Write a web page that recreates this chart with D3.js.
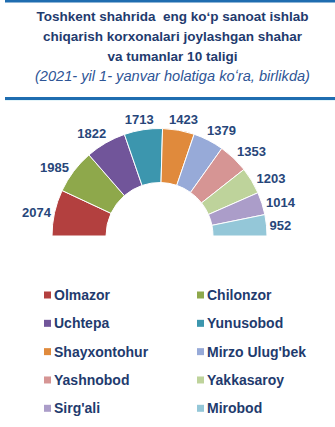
<!DOCTYPE html>
<html><head><meta charset="utf-8">
<script src="https://cdn.jsdelivr.net/npm/d3@7/dist/d3.min.js"></script>
<style>
html,body{margin:0;padding:0;background:#fff;}
svg{display:block;font-family:"Liberation Sans",Arial,sans-serif;}
</style></head>
<body>
<svg id="chart" width="335" height="427"></svg>
<script>
const titleLines = ["Toshkent shahrida  eng ko\u02bbp sanoat ishlab", "chiqarish korxonalari joylashgan shahar", "va tumanlar 10 taligi"];
const subtitle = "(2021- yil 1- yanvar holatiga ko\u02bbra, birlikda)";
const categories = ["Olmazor","Chilonzor","Uchtepa","Yunusobod","Shayxontohur","Mirzo Ulug'bek","Yashnobod","Yakkasaroy","Sirg'ali","Mirobod"];
const values = [2074,1985,1822,1713,1423,1379,1353,1203,1014,952];
const colors = ["#b3403f","#8ea84b","#71559a","#3c96ae","#e08a3c","#97aad8","#d69594","#bed39b","#ab9dc9","#94c7d8"];

const svg = d3.select("#chart");
svg.append("rect").attr("width",335).attr("height",427).attr("fill","#fff");

// header rules
svg.append("rect").attr("x",5).attr("y",0).attr("width",330).attr("height",2.5).attr("fill","#1f6db0");
svg.append("rect").attr("x",5).attr("y",97).attr("width",330).attr("height",3).attr("fill","#1f6db0");
svg.append("rect").attr("x",5).attr("y",100).attr("width",330).attr("height",1).attr("fill","#e4f5fa");

// title
titleLines.forEach((t,i)=>{
  svg.append("text").attr("x",172.5).attr("y",21+i*20).attr("text-anchor","middle")
    .attr("font-size",13.5).attr("font-weight","bold").attr("fill","#1f3b6e")
    .style("white-space","pre").text(t);
});
svg.append("text").attr("x",172.5).attr("y",81).attr("text-anchor","middle")
  .attr("font-size",14.6).attr("font-style","italic").attr("fill","#2e5596").text(subtitle);

// half donut
const cx = 159.5, cy = 236, rOuter = 107.5, rInner = 53.5;
const data = categories.map((c,i)=>({name:c,value:values[i],color:colors[i]}));
const pie = d3.pie().value(d=>d.value).sort(null).startAngle(-Math.PI/2).endAngle(Math.PI/2);
const arcs = pie(data);
const arc = d3.arc().innerRadius(rInner).outerRadius(rOuter);
const g = svg.append("g").attr("transform",`translate(${cx},${cy})`);
g.selectAll("path").data(arcs).join("path")
  .attr("d",arc).attr("fill",d=>d.data.color).attr("stroke","#fff").attr("stroke-width",1);

// labels (placed outside the arc, box-aware)
const lh = 12, R0 = rOuter + 2.5;
g.selectAll("text.lbl").data(arcs).join("text").attr("class","lbl")
  .attr("font-size",13).attr("font-weight","bold").attr("fill","#27467a")
  .attr("text-anchor","middle").attr("dominant-baseline","central")
  .each(function(d){
    const th0 = (d.startAngle+d.endAngle)/2 + Math.PI/2; // angle from left horizontal
    const th = th0 - (4*Math.PI/180)*Math.sin(2*th0);
    const c = Math.cos(th), s = Math.sin(th);
    const w = String(d.data.value).length*7.2;
    const r = R0 + Math.abs(c)*w/2 + Math.abs(s)*lh/2;
    d3.select(this).attr("x",-c*r).attr("y",-s*r).text(d.data.value);
  });

// legend
const rowY = d3.scalePoint().domain(d3.range(5)).range([295,408.3]);
const colX = [44,197];
const lg = svg.append("g");
data.forEach((d,i)=>{
  const col = i%2, row = Math.floor(i/2);
  const x = colX[col], y = rowY(row);
  lg.append("rect").attr("x",x).attr("y",y-3.5).attr("width",7).attr("height",7).attr("fill",d.color);
  lg.append("text").attr("x",x+10).attr("y",y+5).attr("font-size",14).attr("font-weight","bold")
    .attr("fill","#1f3b6e").text(d.name);
});
</script>
</body></html>
